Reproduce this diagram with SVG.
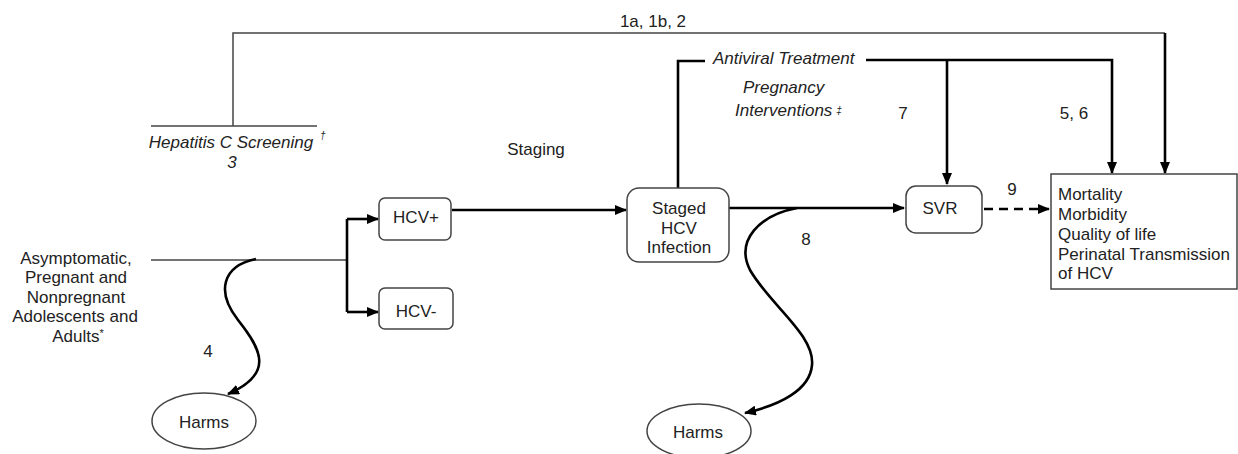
<svg xmlns="http://www.w3.org/2000/svg" width="1238" height="454" viewBox="0 0 1238 454">
<style>
text{font-family:"Liberation Sans",Arial,sans-serif;font-size:17px;fill:#222}
.it{font-style:italic}
.mid{text-anchor:middle}
.box{fill:#fff;stroke:#444;stroke-width:1.5}
.thin{fill:none;stroke:#444;stroke-width:1.5}
.thick{fill:none;stroke:#000;stroke-width:2.6}
.dash{fill:none;stroke:#000;stroke-width:2.6;stroke-dasharray:9 6}
</style>
<defs>
<marker id="ah" viewBox="0 0 12 10" refX="11" refY="5" markerWidth="12" markerHeight="10" markerUnits="userSpaceOnUse" orient="auto">
<path d="M0,0 L12,5 L0,10 z" fill="#000"/>
</marker>
</defs>
<rect width="1238" height="454" fill="#fff"/>

<g id="connectors">
<!-- KQ1a,1b,2 overarching -->
<path class="thin" d="M233,126 V33 H1165"/>
<path class="thick" d="M1165,33 V173" marker-end="url(#ah)"/>
<!-- Screening bar -->
<path class="thin" d="M151,126 H317"/>
<!-- population line -->
<path class="thin" d="M151,260 H347"/>
<path class="thick" d="M347,219 V312"/>
<path class="thick" d="M347,219 H378" marker-end="url(#ah)"/>
<path class="thick" d="M347,312 H378" marker-end="url(#ah)"/>
<!-- HCV+ to staged -->
<path class="thick" d="M452,210 H626" marker-end="url(#ah)"/>
<!-- Antiviral treatment -->
<path class="thick" d="M678,188 V61 H705"/>
<path class="thick" d="M866,60 H1112 V173" marker-end="url(#ah)"/>
<path class="thick" d="M947,60 V184" marker-end="url(#ah)"/>
<!-- staged to SVR -->
<path class="thick" d="M729,208 H904" marker-end="url(#ah)"/>
<!-- SVR to outcomes -->
<path class="dash" d="M984,209 H1049" marker-end="url(#ah)"/>
<!-- harms curves -->
<path class="thick" d="M256,259 C222,266 216,292 238,320 C262,350 274,374 228,394" marker-end="url(#ah)"/>
<path class="thick" d="M797,208 C760,215 735,240 750,270 C770,305 815,335 812,365 C810,390 780,405 745,413" marker-end="url(#ah)"/>
</g>

<g id="labels">
<text class="mid" x="653" y="27">1a, 1b, 2</text>
<text class="it mid" x="231" y="148">Hepatitis C Screening</text>
<text class="it" x="320" y="139" style="font-size:10px">†</text>
<text class="it mid" x="232" y="168">3</text>
<text class="mid" x="536" y="155">Staging</text>
<text class="it" x="713" y="64">Antiviral Treatment</text>
<text class="it" x="743" y="93">Pregnancy</text>
<text class="it" x="735" y="116">Interventions<tspan style="font-size:10px" dx="4" dy="-2">‡</tspan></text>
<text class="mid" x="903" y="119">7</text>
<text class="mid" x="1074" y="119">5, 6</text>
<text class="mid" x="1012" y="195">9</text>
<text class="mid" x="806" y="245">8</text>
<text class="mid" x="208" y="357">4</text>
</g>

<g id="population">
<text class="mid" x="76" y="264">Asymptomatic,</text>
<text class="mid" x="76" y="283">Pregnant and</text>
<text class="mid" x="76" y="303">Nonpregnant</text>
<text class="mid" x="75" y="322">Adolescents and</text>
<text class="mid" x="78" y="342">Adults<tspan style="font-size:11px" dy="-5">*</tspan></text>
</g>

<g id="hcvpos">
<rect class="box" x="379" y="198" width="72" height="42" rx="6"/>
<text class="mid" x="416" y="223">HCV+</text>
</g>
<g id="hcvneg">
<rect class="box" x="379" y="288" width="74" height="41" rx="6"/>
<text class="mid" x="416" y="317">HCV-</text>
</g>
<g id="staged">
<rect class="box" x="627" y="188" width="102" height="74" rx="12"/>
<text class="mid" x="679" y="214">Staged</text>
<text class="mid" x="679" y="234">HCV</text>
<text class="mid" x="679" y="253">Infection</text>
</g>
<g id="svr">
<rect class="box" x="906" y="186" width="76" height="47" rx="10"/>
<text class="mid" x="940" y="214">SVR</text>
</g>
<g id="outcomes">
<rect class="box" x="1051" y="174" width="186" height="115"/>
<text x="1058" y="200">Mortality</text>
<text x="1058" y="220">Morbidity</text>
<text x="1058" y="240">Quality of life</text>
<text x="1058" y="260">Perinatal Transmission</text>
<text x="1058" y="279">of HCV</text>
</g>
<g id="harms1">
<ellipse class="box" cx="204" cy="421" rx="52" ry="28"/>
<text class="mid" x="204" y="428">Harms</text>
</g>
<g id="harms2">
<ellipse class="box" cx="699" cy="431" rx="52" ry="27"/>
<text class="mid" x="698" y="438">Harms</text>
</g>
</svg>
